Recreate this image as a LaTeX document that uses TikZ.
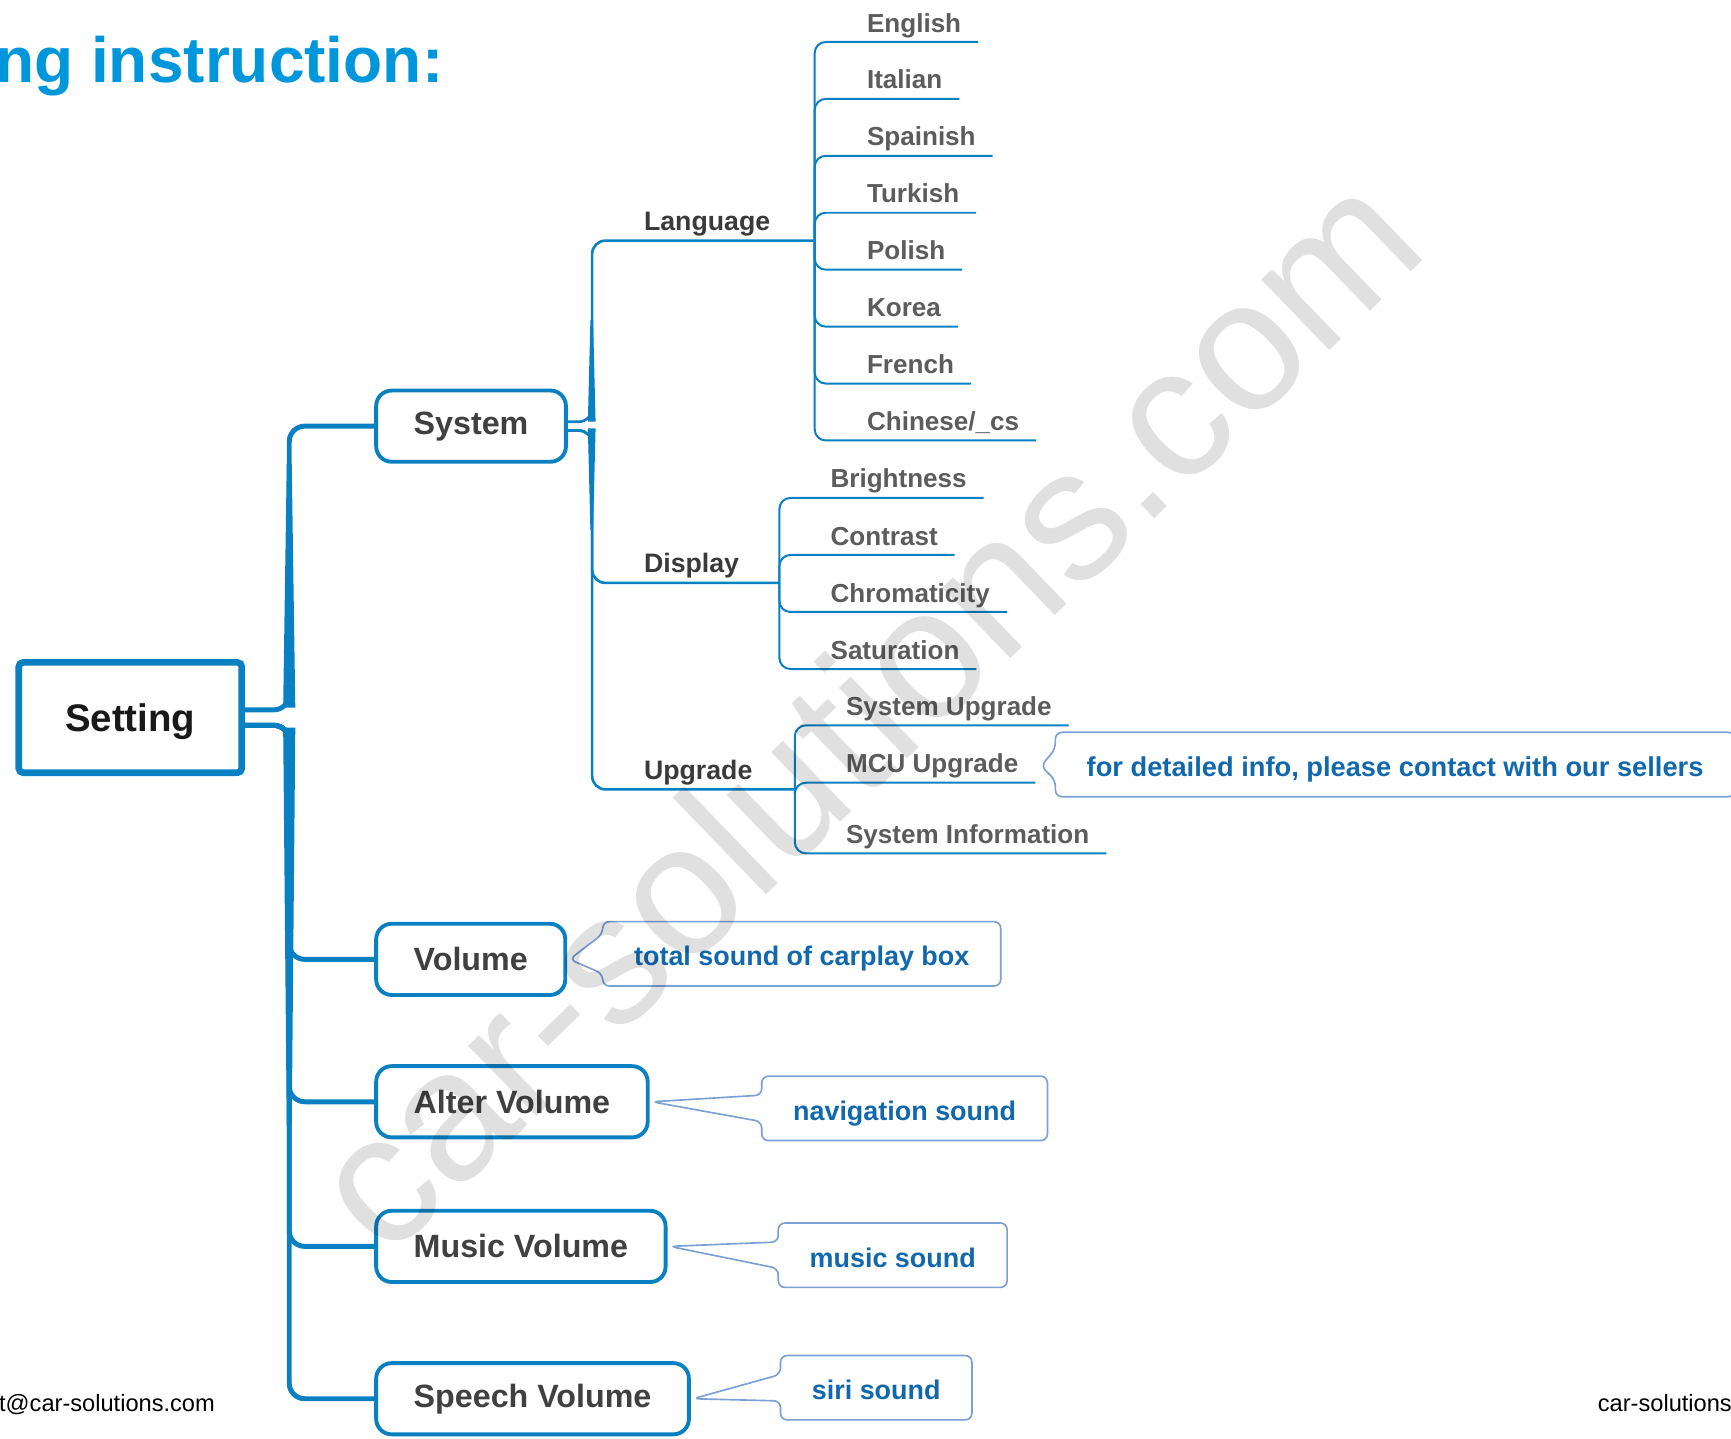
\documentclass[tikz,border=0pt]{standalone}
\usepackage{fontspec}
\setmainfont{Liberation Sans}
\usepackage{tikz}

\definecolor{mapblue}{RGB}{8,128,194}
\definecolor{titleblue}{RGB}{0,150,219}
\definecolor{noteedge}{RGB}{122,160,212}
\definecolor{notetext}{RGB}{18,104,172}
\definecolor{topictext}{RGB}{64,64,64}
\definecolor{subtext}{RGB}{58,58,58}
\definecolor{leaftext}{RGB}{92,92,92}

\begin{document}
\begin{tikzpicture}[x=0.5pt,y=-0.5pt,
    root/.style={draw=mapblue,line width=3pt,rounded corners=2pt,minimum width=101pt,minimum height=50pt,
      text height=13.6pt,text depth=0.6pt,font=\bfseries\fontsize{17.4}{20}\selectfont,text=black!90},
    topic/.style={draw=mapblue,line width=1.75pt,rounded corners=7pt,inner xsep=17pt,minimum height=32.25pt,
      anchor=west,font=\bfseries\fontsize{14.6}{17}\selectfont,text=topictext},
    sub/.style={anchor=base west,inner sep=0pt,font=\bfseries\fontsize{12.1}{14}\selectfont,text=subtext},
    leaf/.style={sub,font=\bfseries\fontsize{11.8}{14}\selectfont,text=leaftext},
    note/.style={inner xsep=14pt,minimum height=28.75pt,anchor=west,text=notetext,
      text height=11.5pt,text depth=0.6pt,font=\bfseries\fontsize{12.2}{14}\selectfont},
    notebox/.style={draw=noteedge,line width=0.75pt,rounded corners=3pt},
    trunk/.style={draw=mapblue,line width=2.25pt,rounded corners=7pt},
    fork/.style={draw=mapblue,line width=1.2pt,rounded corners=6pt},
    twig/.style={draw=mapblue,line width=0.9pt,rounded corners=5pt}]

  \useasboundingbox (0,0) rectangle (1568,1303);

  % title and footer
  \node[anchor=base east,inner sep=0pt,text=titleblue,font=\bfseries\fontsize{29}{34}\selectfont] (title) at (402,75) {ng instruction:};
  \node[anchor=base east,inner sep=0pt,font=\fontsize{10.7}{13}\selectfont] (mail) at (195,1279) {t@car-solutions.com};
  \node[anchor=base west,inner sep=0pt,font=\fontsize{10.7}{13}\selectfont] (web) at (1447,1279) {car-solutions};

  % main boxes
  \node[root] (setting) at (118,650) {Setting};
  \node[topic] (sys) at (339,386) {System};
  \node[topic] (vol) at (339,869) {Volume};
  \node[topic] (alt) at (339,998) {Alter Volume};
  \node[topic] (mus) at (339,1129) {Music Volume};
  \node[topic] (spe) at (339,1267) {Speech Volume};

  % trunk
  \fill[mapblue] (259.75,420) -- (264.25,420) -- (267.5,641) -- (256.5,641) -- cycle;
  \fill[mapblue] (256.5,659) -- (267.5,659) -- (264.25,1020) -- (259.75,1020) -- cycle;
  \draw[trunk] ([yshift=3.5pt]setting.east) -- ++(40,0) |- (sys.west);
  \foreach \c in {vol,alt,mus,spe}
    \draw[trunk] ([yshift=-3.5pt]setting.east) -- ++(40,0) |- (\c.west);

  % system
  \coordinate (langbus) at (738,218);
  \coordinate (dispbus) at (706,528);
  \coordinate (upgbus) at (720,715);
  \node[sub] (lang) at (583,209) {Language};
  \node[sub] (disp) at (583,519) {Display};
  \node[sub] (upg) at (583,706) {Upgrade};
  \fill[mapblue] (534.8,290) -- (537.2,290) -- (539.5,382) -- (532.5,382) -- cycle;
  \fill[mapblue] (532.5,388) -- (539.5,388) -- (537.2,480) -- (534.8,480) -- cycle;
  \draw[fork] ([yshift=2pt]sys.east) -- ++(22,0) |- (langbus);
  \draw[fork] ([yshift=-2pt]sys.east) -- ++(22,0) |- (dispbus);
  \draw[fork] ([yshift=-2pt]sys.east) -- ++(22,0) |- (upgbus);

  \foreach \t [count=\i] in {English,Italian,Spainish,Turkish,Polish,Korea,French,Chinese/\_cs} {
    \node[leaf] (lang\i) at (785,{29+51.57*(\i-1)}) {\t};
    \draw[twig] (langbus) |- ([shift={(15,9)}]lang\i.base east);
  }
  \foreach \t [count=\i] in {Brightness,Contrast,Chromaticity,Saturation} {
    \node[leaf] (disp\i) at (752,{442+51.67*(\i-1)}) {\t};
    \draw[twig] (dispbus) |- ([shift={(15,9)}]disp\i.base east);
  }
  \node[leaf] (upg1) at (766,648) {System Upgrade};
  \node[leaf] (upg2) at (766,700) {MCU Upgrade};
  \node[leaf] (upg3) at (766,764) {System Information};
  \foreach \i in {1,2,3}
    \draw[twig] (upgbus) |- ([shift={(15,9)}]upg\i.base east);

  % notes
  \node[note,font=\bfseries\fontsize{12.35}{14}\selectfont] (mcunote) at (956,692.5) {for detailed info, please contact with our sellers};
  \node[note] (volnote) at (546,864) {total sound of carplay box};
  \node[note] (altnote) at (690,1004) {navigation sound};
  \node[note] (musnote) at (705,1137) {music sound};
  \node[note] (spenote) at (707,1257) {siri sound};
  \foreach \p/\n/\w/\g in {vol/volnote/9pt/1pt,alt/altnote/6pt/1pt,mus/musnote/6pt/1pt,spe/spenote/6pt/1pt,upg2/mcunote/7pt/10pt}
    \draw[notebox] ([xshift=\g]\p.east) -- ([yshift=\w]\n.west) -- (\n.north west) -- (\n.north east)
      -- (\n.south east) -- (\n.south west) -- ([yshift=-\w]\n.west) -- cycle;

  % watermark
  \node[rotate=44,text=black,opacity=0.12,font=\fontsize{84}{90}\selectfont] (mark) at (782,642) {car-solutions.com};

\end{tikzpicture}
\end{document}
